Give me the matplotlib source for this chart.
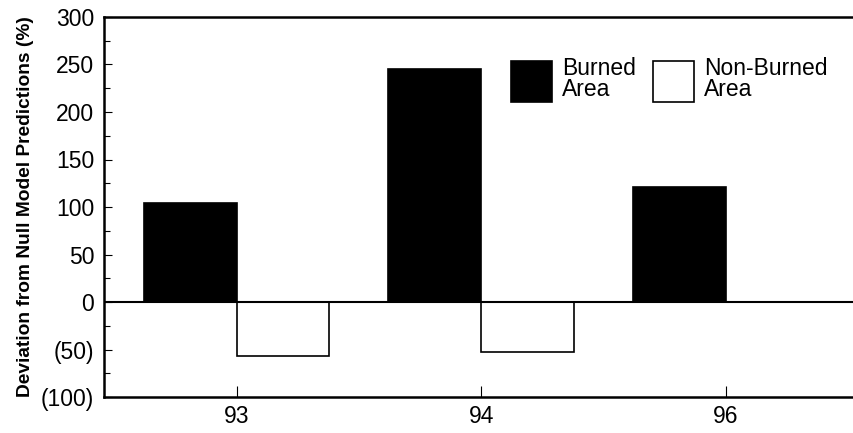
import matplotlib
matplotlib.use("Agg")
import matplotlib.pyplot as plt
from matplotlib.patches import Patch
from matplotlib.ticker import MultipleLocator, FuncFormatter

years = ["93", "94", "96"]
burned = [104, 245, 121]
non_burned = [-57, -53, 0]
series_labels = ["Burned\nArea", "Non-Burned\nArea"]
y_label = "Deviation from Null Model Predictions (%)"

plt.rcParams['font.family'] = ['Liberation Sans', 'DejaVu Sans']

fig = plt.figure(figsize=(8.54, 4.33), dpi=100)
ax = fig.add_axes([104/854, 1-397/433, 1.0 - 104/854 + 0.01, (397-17)/433])

x = list(range(len(years)))
w = 0.38
ax.bar([i - w/2 for i in x], burned, width=w, color='black', edgecolor='black', linewidth=1.2, zorder=2)
nb_x = [i + w/2 for i, v in zip(x, non_burned) if v != 0]
nb_v = [v for v in non_burned if v != 0]
ax.bar(nb_x, nb_v, width=w, color='white', edgecolor='black', linewidth=1.2, zorder=2)
ax.axhline(0, color='black', linewidth=1.5, zorder=3)

ax.set_xlim(-0.542, 2.56)
ax.set_ylim(-100, 300)
ax.yaxis.set_major_locator(MultipleLocator(50))
ax.yaxis.set_minor_locator(MultipleLocator(25))
ax.yaxis.set_major_formatter(FuncFormatter(lambda v, p: f"({abs(int(v))})" if v < 0 else f"{int(v)}"))
ax.set_xticks(x)
ax.set_xticklabels(years)
ax.tick_params(axis='both', which='major', direction='in', length=6, width=0.8, labelsize=16.5, pad=7)
ax.tick_params(axis='y', which='minor', direction='in', length=4, width=0.8)
ax.tick_params(axis='x', which='major', length=8, pad=6)
for s in ['left', 'bottom', 'top']:
    ax.spines[s].set_linewidth(1.8)
ax.spines['right'].set_visible(False)

ax.set_ylabel(y_label, fontsize=13.8, fontweight='bold', labelpad=5)

fs = 16.5
handles = [Patch(facecolor='black', edgecolor='black', linewidth=1.2),
           Patch(facecolor='white', edgecolor='black', linewidth=1.2)]
leg = fig.legend(handles, series_labels, loc='upper left', bbox_to_anchor=(511/854, 1-57/433),
                 ncol=2, frameon=False, fontsize=fs, handlelength=29.5/fs,
                 handleheight=(29.5/fs - 0.245)/0.65,
                 handletextpad=0.45, columnspacing=0.72, borderpad=0, borderaxespad=0,
                 labelspacing=0)
for t in leg.get_texts():
    t.set_linespacing(0.9)

fig.savefig("out.png", dpi=100)
